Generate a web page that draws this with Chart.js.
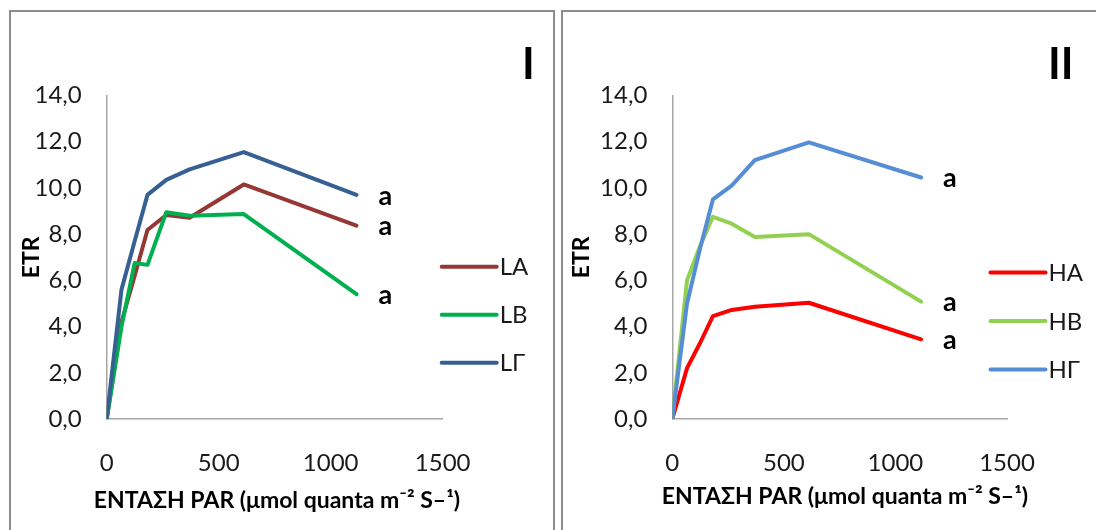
<!DOCTYPE html>
<html>
<head>
<meta charset="utf-8">
<script src="https://cdn.jsdelivr.net/npm/chart.js@4.4.1/dist/chart.umd.min.js"></script>
<style>
  body { margin: 0; width: 1096px; height: 530px; overflow: hidden; background: #fff; }
  .panel { position: absolute; top: 10px; height: 540px; border: 2px solid #8c8c8c; box-sizing: border-box; }
  #panelI { left: 9px; width: 546px; }
  #panelII { left: 561px; width: 545px; }
  .panel canvas { position: absolute; left: 0; top: 0; }
  .tag { position: absolute; top: 25px; font: bold 43px Lato, sans-serif; color: #000; }
</style>
</head>
<body>
<div class="panel" id="panelI">
  <canvas id="chartI" width="542" height="518"></canvas>
  <div class="tag" style="left: 511px;">I</div>
</div>
<div class="panel" id="panelII">
  <canvas id="chartII" width="541" height="518"></canvas>
  <div class="tag" style="left: 485px;">II</div>
</div>
<script>
// light intensity steps (µmol quanta m-2 s-1)
const par = [0, 66, 125, 182, 266, 370, 612, 1115];

// panel I: L treatments
const LA = [0, 4.2, 6.2, 8.18, 8.83, 8.71, 10.15, 8.37];
const LB = [0, 4.0, 6.75, 6.67, 8.95, 8.8, 8.87, 5.4];
const LG = [0, 5.6, 7.7, 9.7, 10.35, 10.8, 11.55, 9.7];

// panel II: H treatments
const HA = [0, 2.2, 3.3, 4.45, 4.72, 4.86, 5.03, 3.45];
const HB = [0, 6.0, 7.5, 8.75, 8.45, 7.88, 8.0, 5.08];
const HG = [0, 5.0, 7.4, 9.5, 10.1, 11.2, 11.97, 10.45];

const labelsI = ['LA', 'LB', 'LΓ'];
const labelsII = ['HA', 'HB', 'HΓ'];
const colorsI = ['#953735', '#00b050', '#376092'];
const colorsII = ['#ff0000', '#92d050', '#558ed5'];
const lettersI = ['a', 'a', 'a'];
const lettersII = ['a', 'a', 'a'];

const xTicks = [0, 500, 1000, 1500];
const yMax = 14;
const xTitle = 'ΕΝΤΑΣΗ PAR (μmol quanta m⁻² S–¹)';
const yTitle = 'ETR';

const FONT = 'Lato, "Open Sans", sans-serif';

// significance letter next to the last point of every line
const endLetters = {
  id: 'endLetters',
  afterDatasetsDraw(chart, args, opts) {
    const ctx = chart.ctx;
    ctx.save();
    ctx.font = 'bold 27px ' + FONT;
    ctx.fillStyle = '#000';
    ctx.textBaseline = 'middle';
    chart.data.datasets.forEach((ds, i) => {
      const pts = chart.getDatasetMeta(i).data;
      const last = pts[pts.length - 1];
      ctx.fillText(opts.letters[i], last.x + 22, last.y + 1);
    });
    ctx.restore();
  }
};

// line-sample legend to the right of the plot
const sideLegend = {
  id: 'sideLegend',
  afterDraw(chart, args, opts) {
    const ctx = chart.ctx;
    ctx.save();
    ctx.font = '24px ' + FONT;
    ctx.textBaseline = 'middle';
    ctx.lineCap = 'round';
    chart.data.datasets.forEach((ds, i) => {
      const y = opts.top + i * opts.step;
      ctx.strokeStyle = ds.borderColor;
      ctx.lineWidth = 4;
      ctx.beginPath();
      ctx.moveTo(opts.left, y);
      ctx.lineTo(opts.left + 55, y);
      ctx.stroke();
      ctx.fillStyle = '#1a1a1a';
      ctx.fillText(ds.label, opts.left + 58, y + 1);
    });
    ctx.restore();
  }
};

// x axis caption, wider than the plot so it is drawn without a width cap
const xCaption = {
  id: 'xCaption',
  afterDraw(chart, args, opts) {
    const ctx = chart.ctx;
    ctx.save();
    ctx.font = 'bold 23px ' + FONT;
    ctx.fillStyle = '#000';
    ctx.textAlign = 'center';
    ctx.textBaseline = 'middle';
    ctx.fillText(opts.text, opts.x, opts.y);
    ctx.restore();
  }
};

function series(ys) {
  return par.map((x, k) => ({ x: x, y: ys[k] }));
}

function makeChart(id, sets, labels, colors, letters, box, legendPos, captionPos) {
  const datasets = sets.map((ys, i) => ({
    label: labels[i],
    data: series(ys),
    borderColor: colors[i],
    backgroundColor: colors[i],
    borderWidth: 4,
    pointRadius: 0,
    tension: 0,
    borderJoinStyle: 'round',
    borderCapStyle: 'round',
    order: sets.length - i
  }));
  const cv = document.getElementById(id);
  return new Chart(cv, {
    type: 'line',
    data: { datasets: datasets },
    options: {
      responsive: false,
      animation: false,
      devicePixelRatio: 1,
      layout: { padding: { left: 0, top: box.top, right: cv.width - box.right, bottom: 0 } },
      plugins: {
        legend: { display: false },
        tooltip: { enabled: false },
        endLetters: { letters: letters },
        sideLegend: legendPos,
        xCaption: { text: xTitle, x: captionPos.x, y: captionPos.y }
      },
      scales: {
        x: {
          type: 'linear',
          min: 0,
          max: 1500,
          afterBuildTicks: s => { s.ticks = xTicks.map(v => ({ value: v })); },
          afterFit: s => { s.height = cv.height - box.bottom; },
          grid: { display: false, drawTicks: false },
          border: { display: true, color: '#a6a6a6', width: 1.5 },
          ticks: { padding: 30, color: '#1a1a1a', font: { family: FONT, size: 24 },
                   callback: v => String(v) }
        },
        y: {
          min: 0,
          max: yMax,
          ticks: { stepSize: 2, padding: 25, color: '#1a1a1a', font: { family: FONT, size: 24 },
                   callback: v => v.toFixed(1).replace('.', ',') },
          afterFit: s => { s.width = box.left; },
          grid: { display: false, drawTicks: false },
          border: { display: true, color: '#a6a6a6', width: 1.5 },
          title: { display: true, text: yTitle, color: '#000', padding: { top: box.yTitle, bottom: 0 },
                   font: { family: FONT, size: 23, weight: 'bold' } }
        }
      }
    },
    plugins: [endLetters, sideLegend, xCaption]
  });
}

makeChart('chartI', [LA, LB, LG], labelsI, colorsI, lettersI,
  { left: 95.7, right: 431.7, top: 83.5, bottom: 407, yTitle: 7 },
  { left: 430.7, top: 254.7, step: 48 },
  { x: 266, y: 489 });

makeChart('chartII', [HA, HB, HG], labelsII, colorsII, lettersII,
  { left: 109.3, right: 444, top: 83.5, bottom: 407, yTitle: 5 },
  { left: 427.5, top: 260.6, step: 48.5 },
  { x: 282, y: 485 });
</script>
</body>
</html>
